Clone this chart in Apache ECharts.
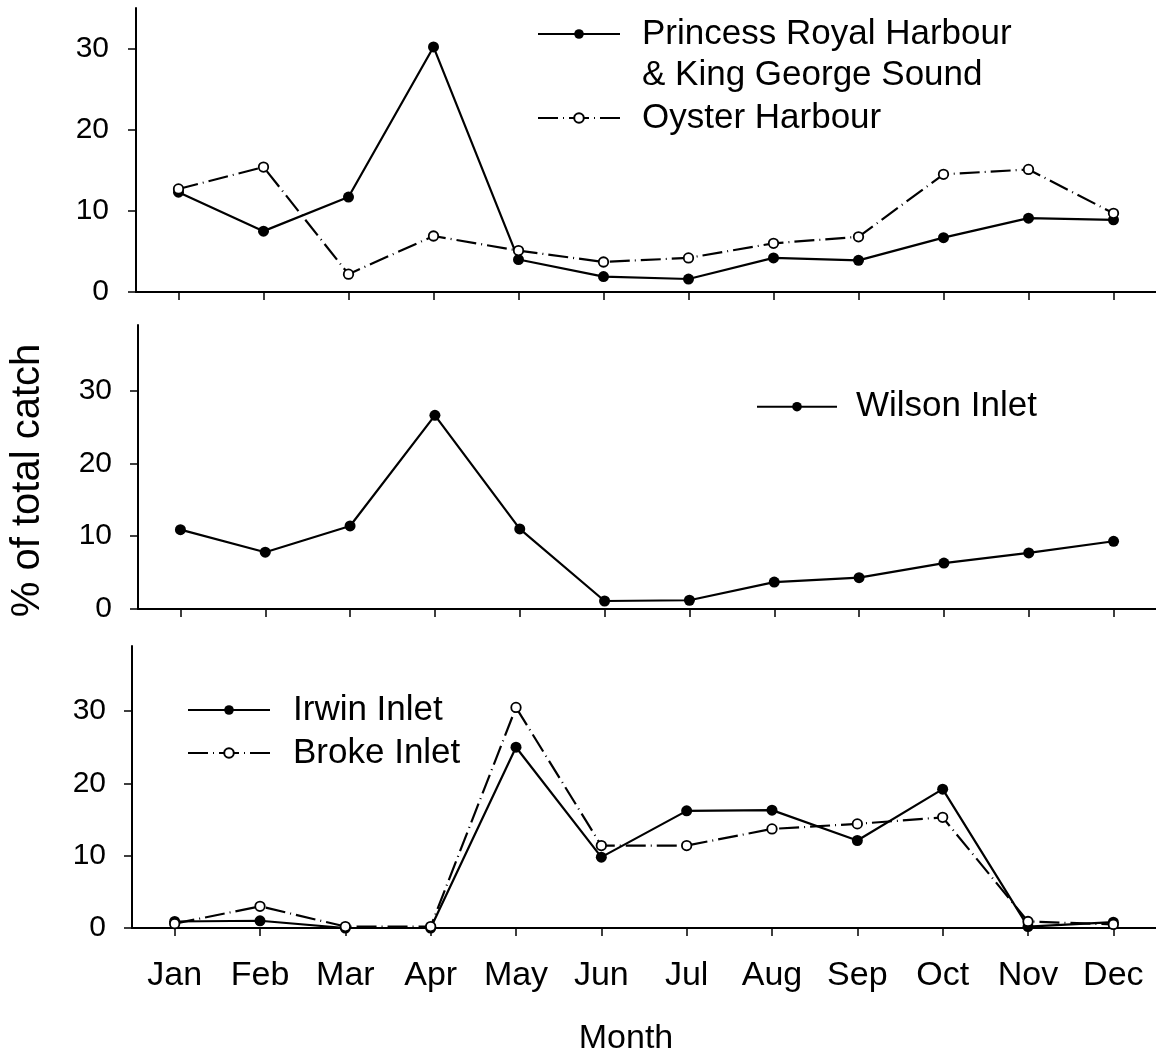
<!DOCTYPE html>
<html>
<head>
<meta charset="utf-8">
<script src="https://cdn.jsdelivr.net/npm/echarts@6/dist/echarts.min.js"></script>
<style>
html,body{margin:0;padding:0;background:#fff;}
#main{width:1156px;height:1057px;}
</style>
</head>
<body>
<div id="main"></div>
<script>
const months = ['Jan','Feb','Mar','Apr','May','Jun','Jul','Aug','Sep','Oct','Nov','Dec'];
const princessRoyal = [12.3, 7.5, 11.7, 30.2, 4.0, 1.9, 1.6, 4.2, 3.9, 6.7, 9.1, 8.9];
const oysterHarbour = [12.7, 15.4, 2.2, 6.9, 5.1, 3.7, 4.2, 6.0, 6.8, 14.5, 15.1, 9.7];
const wilsonInlet = [10.9, 7.8, 11.4, 26.6, 11.0, 1.1, 1.2, 3.7, 4.3, 6.3, 7.7, 9.3];
const irwinInlet = [0.9, 1.0, 0, 0, 25.0, 9.8, 16.2, 16.3, 12.1, 19.2, 0.2, 0.8];
const brokeInlet = [0.6, 3.0, 0.2, 0.2, 30.5, 11.4, 11.4, 13.7, 14.4, 15.3, 0.9, 0.5];
const yTicks = [0, 10, 20, 30];

const FONT = 'Liberation Sans, Arial, Helvetica, sans-serif';
const chart = echarts.init(document.getElementById('main'), null, {renderer: 'canvas'});

const dash = [20, 5, 1, 5];
function filledSeries(name, data, idx) {
  return {
    name: name, type: 'line', xAxisIndex: idx, yAxisIndex: idx, data: data,
    symbol: 'circle', symbolSize: 11, showSymbol: true,
    lineStyle: {color: '#000', width: 2.2},
    itemStyle: {color: '#000', borderColor: '#000', borderWidth: 0},
    emphasis: {disabled: true}, z: 2
  };
}
function openSeries(name, data, idx) {
  return {
    name: name, type: 'line', xAxisIndex: idx, yAxisIndex: idx, data: data,
    symbol: 'circle', symbolSize: 9.5, showSymbol: true,
    lineStyle: {color: '#000', width: 2.2, type: dash},
    itemStyle: {color: '#fff', borderColor: '#000', borderWidth: 1.8},
    emphasis: {disabled: true}, z: 3
  };
}
function xAx(idx, showLabels) {
  return {
    type: 'category', gridIndex: idx, data: months, boundaryGap: true,
    axisLine: {lineStyle: {color: '#000', width: 2}},
    axisTick: {show: true, alignWithLabel: true, length: 8, lineStyle: {color: '#000', width: 1.5}},
    axisLabel: {show: showLabels, color: '#000', fontSize: 34, fontFamily: FONT, margin: 31, interval: 0},
    splitLine: {show: false}
  };
}
function yAx(idx, max, margin) {
  return {
    type: 'value', gridIndex: idx, min: 0, max: max,
    axisLine: {show: true, lineStyle: {color: '#000', width: 2}},
    axisTick: {show: true, length: 8, customValues: yTicks, lineStyle: {color: '#000', width: 1.5}},
    axisLabel: {color: '#000', fontSize: 30, fontFamily: FONT, margin: margin, customValues: yTicks},
    splitLine: {show: false}
  };
}

const yAxes = [yAx(0, 35, 27), yAx(1, 39, 26), yAx(2, 39, 26)];
yAxes[1].name = '% of total catch';
yAxes[1].nameLocation = 'middle';
yAxes[1].nameGap = 90;
yAxes[1].nameRotate = 90;
yAxes[1].nameTextStyle = {color: '#000', fontSize: 40, fontFamily: FONT, padding: [0, 27, 0, 0]};

const xAxes = [xAx(0, false), xAx(1, false), xAx(2, true)];
xAxes[2].name = 'Month';
xAxes[2].nameLocation = 'middle';
xAxes[2].nameGap = 94;
xAxes[2].nameTextStyle = {color: '#000', fontSize: 34, fontFamily: FONT, padding: [0, 36, 0, 0]};

const legendText = {color: '#000', fontSize: 35, fontFamily: FONT, lineHeight: 41};
const option = {
  animation: false,
  backgroundColor: '#fff',
  textStyle: {fontFamily: FONT},
  grid: [
    {left: 136, top: 8, width: 1025.4, height: 284},
    {left: 132, top: 325, width: 1026, height: 284},
    {left: 132, top: 646, width: 1026, height: 284}
  ],
  xAxis: xAxes,
  yAxis: yAxes,
  legend: [
    {
      orient: 'vertical', left: 537, top: -27.5, padding: 0, itemGap: 2,
      itemWidth: 82, itemHeight: 12, selectedMode: false,
      textStyle: Object.assign({}, legendText, {padding: [0, 0, 0, 17]}),
      formatter: function (name) {
        return name.indexOf('\n') >= 0 ? ' \n' + name : name;
      },
      data: ['Princess Royal Harbour\n& King George Sound', 'Oyster Harbour']
    },
    {
      orient: 'vertical', left: 756, top: 386.2, padding: 0, itemGap: 2,
      itemWidth: 80, itemHeight: 12, selectedMode: false,
      textStyle: Object.assign({}, legendText, {padding: [0, 0, 0, 14]}),
      data: ['Wilson Inlet']
    },
    {
      orient: 'vertical', left: 187, top: 689.5, padding: 0, itemGap: 2,
      itemWidth: 82, itemHeight: 12, selectedMode: false,
      textStyle: Object.assign({}, legendText, {padding: [0, 0, 0, 18]}),
      data: ['Irwin Inlet', 'Broke Inlet']
    }
  ],
  series: [
    filledSeries('Princess Royal Harbour\n& King George Sound', princessRoyal, 0),
    openSeries('Oyster Harbour', oysterHarbour, 0),
    filledSeries('Wilson Inlet', wilsonInlet, 1),
    filledSeries('Irwin Inlet', irwinInlet, 2),
    openSeries('Broke Inlet', brokeInlet, 2)
  ]
};
chart.setOption(option);
</script>
</body>
</html>
